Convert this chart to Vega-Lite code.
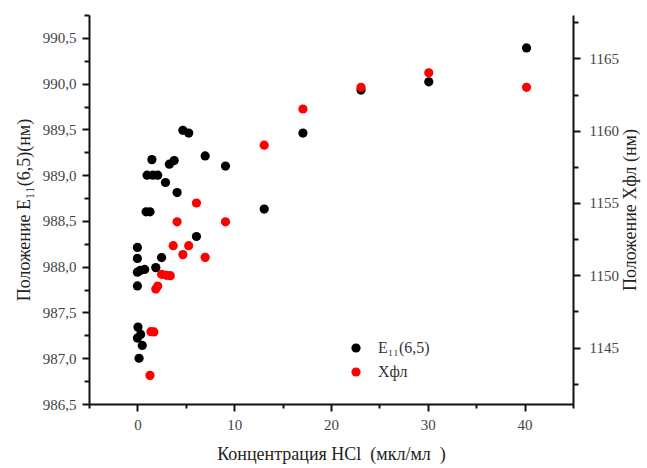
{
  "$schema": "https://vega.github.io/schema/vega-lite/v6.json",
  "width": 484,
  "height": 389,
  "autosize": {"type": "none"},
  "padding": {"left": 89, "top": 15, "right": 74, "bottom": 64},
  "background": "white",
  "config": {
    "view": {"stroke": null},
    "font": "Liberation Serif",
    "axis": {
      "grid": false,
      "domainColor": "#111",
      "domainWidth": 2,
      "tickColor": "#111",
      "tickWidth": 2,
      "labelColor": "#444",
      "labelFont": "Liberation Serif",
      "labelFontSize": 15,
      "titleFont": "Liberation Serif",
      "titleFontSize": 18,
      "titleFontWeight": "normal",
      "titleColor": "#222"
    },
    "legend": {
      "orient": "none",
      "legendX": 259,
      "legendY": 325,
      "labelFont": "Liberation Serif",
      "labelFontSize": 16,
      "labelColor": "#333",
      "symbolSize": 85,
      "symbolType": "circle",
      "symbolStrokeWidth": 0,
      "rowPadding": 8,
      "labelOffset": 14
    }
  },
  "data": {
    "values": [
      {"c": 40.2, "k": "E", "s": "E₁₁(6,5)", "v": 990.39},
      {"c": 30.1, "k": "E", "s": "E₁₁(6,5)", "v": 990.02},
      {"c": 23.1, "k": "E", "s": "E₁₁(6,5)", "v": 989.93},
      {"c": 17.1, "k": "E", "s": "E₁₁(6,5)", "v": 989.46},
      {"c": 13.1, "k": "E", "s": "E₁₁(6,5)", "v": 988.63},
      {"c": 9.1, "k": "E", "s": "E₁₁(6,5)", "v": 989.10},
      {"c": 7.0, "k": "E", "s": "E₁₁(6,5)", "v": 989.21},
      {"c": 6.1, "k": "E", "s": "E₁₁(6,5)", "v": 988.33},
      {"c": 5.3, "k": "E", "s": "E₁₁(6,5)", "v": 989.46},
      {"c": 4.7, "k": "E", "s": "E₁₁(6,5)", "v": 989.49},
      {"c": 4.1, "k": "E", "s": "E₁₁(6,5)", "v": 988.81},
      {"c": 3.8, "k": "E", "s": "E₁₁(6,5)", "v": 989.16},
      {"c": 3.3, "k": "E", "s": "E₁₁(6,5)", "v": 989.12},
      {"c": 2.9, "k": "E", "s": "E₁₁(6,5)", "v": 988.92},
      {"c": 2.1, "k": "E", "s": "E₁₁(6,5)", "v": 989.0},
      {"c": 1.6, "k": "E", "s": "E₁₁(6,5)", "v": 989.0},
      {"c": 1.0, "k": "E", "s": "E₁₁(6,5)", "v": 989.0},
      {"c": 1.5, "k": "E", "s": "E₁₁(6,5)", "v": 989.17},
      {"c": 1.3, "k": "E", "s": "E₁₁(6,5)", "v": 988.60},
      {"c": 0.9, "k": "E", "s": "E₁₁(6,5)", "v": 988.60},
      {"c": 2.5, "k": "E", "s": "E₁₁(6,5)", "v": 988.10},
      {"c": 1.9, "k": "E", "s": "E₁₁(6,5)", "v": 987.99},
      {"c": 0.75, "k": "E", "s": "E₁₁(6,5)", "v": 987.97},
      {"c": 0.3, "k": "E", "s": "E₁₁(6,5)", "v": 987.96},
      {"c": 0.0, "k": "E", "s": "E₁₁(6,5)", "v": 987.94},
      {"c": 0.0, "k": "E", "s": "E₁₁(6,5)", "v": 988.21},
      {"c": 0.0, "k": "E", "s": "E₁₁(6,5)", "v": 988.09},
      {"c": 0.0, "k": "E", "s": "E₁₁(6,5)", "v": 987.79},
      {"c": 0.06, "k": "E", "s": "E₁₁(6,5)", "v": 987.34},
      {"c": 0.34, "k": "E", "s": "E₁₁(6,5)", "v": 987.26},
      {"c": 0.0, "k": "E", "s": "E₁₁(6,5)", "v": 987.22},
      {"c": 0.5, "k": "E", "s": "E₁₁(6,5)", "v": 987.14},
      {"c": 0.17, "k": "E", "s": "E₁₁(6,5)", "v": 987.0},
      {"c": 40.2, "k": "X", "s": "Xфл", "v": 1163.0},
      {"c": 30.1, "k": "X", "s": "Xфл", "v": 1164.0},
      {"c": 23.1, "k": "X", "s": "Xфл", "v": 1163.0},
      {"c": 17.1, "k": "X", "s": "Xфл", "v": 1161.5},
      {"c": 13.1, "k": "X", "s": "Xфл", "v": 1159.0},
      {"c": 9.1, "k": "X", "s": "Xфл", "v": 1153.7},
      {"c": 7.0, "k": "X", "s": "Xфл", "v": 1151.24},
      {"c": 6.1, "k": "X", "s": "Xфл", "v": 1155.0},
      {"c": 5.3, "k": "X", "s": "Xфл", "v": 1152.05},
      {"c": 4.7, "k": "X", "s": "Xфл", "v": 1151.43},
      {"c": 4.1, "k": "X", "s": "Xфл", "v": 1153.7},
      {"c": 3.7, "k": "X", "s": "Xфл", "v": 1152.05},
      {"c": 3.4, "k": "X", "s": "Xфл", "v": 1149.97},
      {"c": 3.0, "k": "X", "s": "Xфл", "v": 1150.0},
      {"c": 2.5, "k": "X", "s": "Xфл", "v": 1150.07},
      {"c": 2.1, "k": "X", "s": "Xфл", "v": 1149.26},
      {"c": 1.9, "k": "X", "s": "Xфл", "v": 1149.05},
      {"c": 1.7, "k": "X", "s": "Xфл", "v": 1146.08},
      {"c": 1.4, "k": "X", "s": "Xфл", "v": 1146.1},
      {"c": 1.3, "k": "X", "s": "Xфл", "v": 1143.08}
    ]
  },
  "layer": [
    {
      "transform": [{"filter": "datum.k == 'E'"}],
      "mark": {"type": "point", "filled": true, "opacity": 1, "size": 85, "strokeWidth": 0},
      "encoding": {
        "x": {
          "field": "c", "type": "quantitative",
          "scale": {"domain": [-5, 45], "nice": false, "zero": false},
          "axis": {
            "title": "Концентрация HCl\u00a0\u00a0(мкл/мл\u00a0\u00a0)",
            "values": [-5, 0, 5, 10, 15, 20, 25, 30, 35, 40, 45],
            "labelExpr": "datum.value % 10 == 0 && datum.value >= 0 ? format(datum.value, 'd') : ''",
            "tickSize": {"condition": {"test": "datum.value % 10 == 0", "value": 7}, "value": 4},
            "labelPadding": 6,
            "titlePadding": 13
          }
        },
        "y": {
          "field": "v", "type": "quantitative",
          "scale": {"domain": [986.5, 990.75], "nice": false, "zero": false},
          "axis": {
            "orient": "left",
            "title": "Положение E₁₁(6,5)(нм)",
            "values": [986.5, 986.75, 987, 987.25, 987.5, 987.75, 988, 988.25, 988.5, 988.75, 989, 989.25, 989.5, 989.75, 990, 990.25, 990.5, 990.75],
            "labelExpr": "(datum.value * 2) % 1 == 0 ? replace(format(datum.value, '.1f'), '.', ',') : ''",
            "tickSize": {"condition": {"test": "(datum.value * 2) % 1 == 0", "value": 7}, "value": 5},
            "labelPadding": 6,
            "titlePadding": 9
          }
        },
        "color": {
          "field": "s", "type": "nominal",
          "scale": {"domain": ["E₁₁(6,5)", "Xфл"], "range": ["#000000", "#ff0000"]},
          "legend": {"title": null}
        }
      }
    },
    {
      "transform": [{"filter": "datum.k == 'X'"}],
      "mark": {"type": "point", "filled": true, "opacity": 1, "size": 85, "strokeWidth": 0},
      "encoding": {
        "x": {"field": "c", "type": "quantitative"},
        "y": {
          "field": "v", "type": "quantitative",
          "scale": {"domain": [1141.1, 1168], "nice": false, "zero": false},
          "axis": {
            "orient": "right",
            "title": "Положение Xфл (нм)",
            "titleAngle": 270,
            "titleBaseline": "top",
            "values": [1142.5, 1145, 1147.5, 1150, 1152.5, 1155, 1157.5, 1160, 1162.5, 1165, 1167.5],
            "labelExpr": "datum.value % 5 == 0 ? format(datum.value, 'd') : ''",
            "tickSize": {"condition": {"test": "datum.value % 5 == 0", "value": 7}, "value": 5},
            "labelPadding": 9,
            "titlePadding": 3
          }
        },
        "color": {"field": "s", "type": "nominal"}
      }
    }
  ],
  "resolve": {"scale": {"y": "independent"}}
}
